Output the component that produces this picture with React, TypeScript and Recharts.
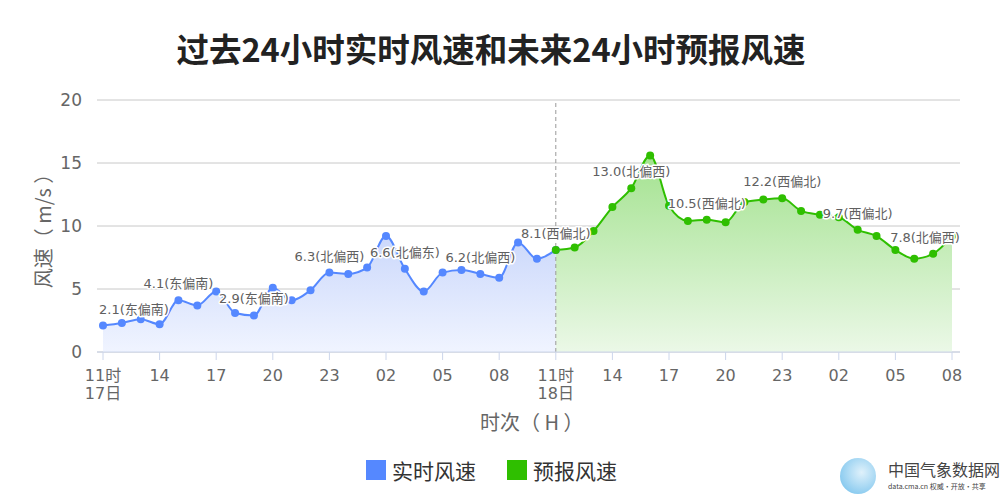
import { ComposedChart, Area, XAxis, YAxis, CartesianGrid, ReferenceLine, LabelList } from 'recharts';

// hourly time stamps, 17日11时 -> 19日08时
const times = [
    '17日11时', '17日12时', '17日13时', '17日14时', '17日15时', '17日16时', '17日17时', '17日18时',
    '17日19时', '17日20时', '17日21时', '17日22时', '17日23时',
    '18日00时', '18日01时', '18日02时', '18日03时', '18日04时', '18日05时', '18日06时', '18日07时',
    '18日08时', '18日09时', '18日10时', '18日11时', '18日12时', '18日13时', '18日14时', '18日15时',
    '18日16时', '18日17时', '18日18时', '18日19时', '18日20时', '18日21时', '18日22时', '18日23时',
    '19日00时', '19日01时', '19日02时', '19日03时', '19日04时', '19日05时', '19日06时', '19日07时',
    '19日08时',
];

// past 24h observed wind speed (m/s)
const observed = [2.1, 2.3, 2.6, 2.2, 4.1, 3.7, 4.8, 3.1, 2.9, 5.1, 4.1, 4.9, 6.3, 6.2, 6.7, 9.2, 6.6, 4.8, 6.3, 6.5, 6.2, 5.9, 8.7, 7.4, 8.1];
// next 24h forecast wind speed (m/s), starts at 18日11时
const forecast = [8.1, 8.3, 9.6, 11.5, 13.0, 15.6, 11.6, 10.4, 10.5, 10.3, 11.9, 12.1, 12.2, 11.2, 10.9, 10.7, 9.7, 9.2, 8.1, 7.4, 7.8, 9.2];
const FCST_START = 24;

// wind direction labels, one every 4 hours
const LABEL_EVERY = 4;
const observedDirs = ['东偏南', '东偏南', '东偏南', '北偏西', '北偏东', '北偏西', '西偏北'];
const forecastDirs = ['北偏西', '西偏北', '西偏北', '西偏北', '北偏西'];

const yTicks = [0, 5, 10, 15, 20];

const BLUE = '#5588ff';
const GREEN = '#2fbf00';
const W = 1000;
const H = 500;
const PLOT_LEFT = 97;
const PLOT_RIGHT = 960;
const FONT = '"DejaVu Sans", "Noto Sans CJK SC", sans-serif';
const CJK = '"Noto Sans CJK SC", sans-serif';

const data = times.map((t, i) => ({
    time: t,
    obs: i < observed.length ? observed[i] : null,
    fcst: i >= FCST_START ? forecast[i - FCST_START] : null,
}));

// rough text width for 13px labels so they stay inside the plot
function labelWidth(s: string) {
    let w = 0;
    for (const ch of s) {
        if (/[0-9]/.test(ch)) w += 8.3;
        else if (ch === '.') w += 4.1;
        else if (ch === '(' || ch === ')') w += 5.1;
        else w += 13;
    }
    return w;
}

function makeLabel(getDir: (i: number) => string | undefined) {
    return (props: any) => {
        const { x, y, value, index } = props;
        if (value == null || x == null || y == null) return null;
        const dir = getDir(index);
        if (!dir) return null;
        const text = `${Number(value).toFixed(1)}(${dir})`;
        const w = labelWidth(text);
        const cx = Math.min(Math.max(x, PLOT_LEFT + 2 + w / 2), PLOT_RIGHT - w / 2);
        return (
            <text
                x={cx}
                y={y - 12}
                textAnchor="middle"
                fontSize={13}
                fontFamily={FONT}
                fill="#606060"
                stroke="#fff"
                strokeWidth={3}
                paintOrder="stroke"
                strokeLinejoin="round"
            >
                {text}
            </text>
        );
    };
}

const obsLabel = makeLabel((i) => (i % LABEL_EVERY === 0 ? observedDirs[i / LABEL_EVERY] : undefined));
const fcstLabel = makeLabel((i) =>
    i > FCST_START && i % LABEL_EVERY === 0 ? forecastDirs[(i - FCST_START - LABEL_EVERY) / LABEL_EVERY] : undefined
);

function TimeTick(props: any) {
    const { x, y, payload } = props;
    const s: string = payload.value;
    const day = s.slice(0, 3);
    const hour = s.slice(3, 5);
    const first = hour === '11';
    return (
        <g>
            <text x={x} y={y + 19} textAnchor="middle" fontSize={16} fontFamily={FONT} fill="#666">
                {first ? `${hour}时` : hour}
            </text>
            {first && (
                <text x={x} y={y + 37} textAnchor="middle" fontSize={16} fontFamily={FONT} fill="#666">
                    {day}
                </text>
            )}
        </g>
    );
}

export default function App() {
    return (
        <div style={{ position: 'relative', width: W, height: H, background: '#fff', fontFamily: FONT }}>
            <style>{'body{margin:0}'}</style>
            <div style={{ position: 'absolute', left: 0, top: 26, width: 982, textAlign: 'center', fontFamily: CJK, fontWeight: 700, fontSize: 32.5, color: '#222', lineHeight: '44px' }}>
                过去24小时实时风速和未来24小时预报风速
            </div>

            <ComposedChart width={W} height={H} data={data} margin={{ top: 100, right: W - PLOT_RIGHT, bottom: 88, left: 0 }}>
                <defs>
                    <linearGradient id="obsFill" x1="0" y1="0" x2="0" y2="1">
                        <stop offset="0%" stopColor="#cbd8fb" />
                        <stop offset="100%" stopColor="#f0f4ff" />
                    </linearGradient>
                    <linearGradient id="fcstFill" x1="0" y1="0" x2="0" y2="1">
                        <stop offset="0%" stopColor="#a3e28f" />
                        <stop offset="100%" stopColor="#ebf8e7" />
                    </linearGradient>
                </defs>
                <CartesianGrid vertical={false} stroke="#c8c8c8" />
                <XAxis
                    dataKey="time"
                    scale="point"
                    padding={{ left: 6, right: 8 }}
                    interval={2}
                    height={60}
                    tick={<TimeTick />}
                    tickSize={8}
                    tickMargin={2}
                    axisLine={{ stroke: '#ccd6eb' }}
                    tickLine={{ stroke: '#ccd6eb' }}
                />
                <YAxis
                    domain={[0, 20]}
                    ticks={yTicks}
                    width={PLOT_LEFT}
                    axisLine={false}
                    tickLine={false}
                    tickSize={0}
                    tickMargin={15}
                    tick={{ fill: '#666', fontSize: 17, fontFamily: FONT }}
                />
                <ReferenceLine x={times[FCST_START]} stroke="#999" strokeDasharray="4 3" />
                <Area
                    type="monotone"
                    dataKey="obs"
                    stroke={BLUE}
                    strokeWidth={2}
                    fill="url(#obsFill)"
                    fillOpacity={1}
                    dot={{ r: 4, fill: BLUE, stroke: BLUE, strokeWidth: 0 }}
                    activeDot={false}
                    isAnimationActive={false}
                >
                    <LabelList dataKey="obs" content={obsLabel} />
                </Area>
                <Area
                    type="monotone"
                    dataKey="fcst"
                    stroke={GREEN}
                    strokeWidth={2}
                    fill="url(#fcstFill)"
                    fillOpacity={1}
                    dot={{ r: 4, fill: GREEN, stroke: GREEN, strokeWidth: 0 }}
                    activeDot={false}
                    isAnimationActive={false}
                >
                    <LabelList dataKey="fcst" content={fcstLabel} />
                </Area>
            </ComposedChart>

            {/* axis titles */}
            <div style={{ position: 'absolute', left: 42, top: 226, transform: 'translate(-50%, -50%) rotate(-90deg)', whiteSpace: 'nowrap', fontFamily: CJK, fontSize: 20, color: '#666' }}>
                风速（ m/s ）
            </div>
            <div style={{ position: 'absolute', left: 480, top: 408, whiteSpace: 'nowrap', fontFamily: CJK, fontSize: 20, color: '#666', lineHeight: '28px' }}>
                时次（ H ）
            </div>

            {/* legend */}
            <div style={{ position: 'absolute', left: 366, top: 455, display: 'flex', alignItems: 'center', fontFamily: CJK, fontSize: 21, color: '#333', lineHeight: '30px' }}>
                <span style={{ width: 20, height: 20, background: BLUE, display: 'inline-block', marginRight: 6 }} />
                <span>实时风速</span>
                <span style={{ width: 20, height: 20, background: GREEN, display: 'inline-block', marginLeft: 31, marginRight: 6 }} />
                <span>预报风速</span>
            </div>

            {/* source mark */}
            <div style={{ position: 'absolute', left: 840, top: 458, width: 36, height: 36, borderRadius: '50%', background: 'radial-gradient(circle at 60% 40%, #dff1fb, #8fcdf0 70%, #5fb6e8)' }} />
            <div style={{ position: 'absolute', left: 888, top: 459, fontFamily: CJK, fontSize: 16, color: '#444', lineHeight: '20px', whiteSpace: 'nowrap' }}>
                中国气象数据网
            </div>
            <div style={{ position: 'absolute', left: 888, top: 481, fontFamily: CJK, fontSize: 7, color: '#444', lineHeight: '10px', whiteSpace: 'nowrap' }}>
                data.cma.cn 权威·开放·共享
            </div>
        </div>
    );
}
